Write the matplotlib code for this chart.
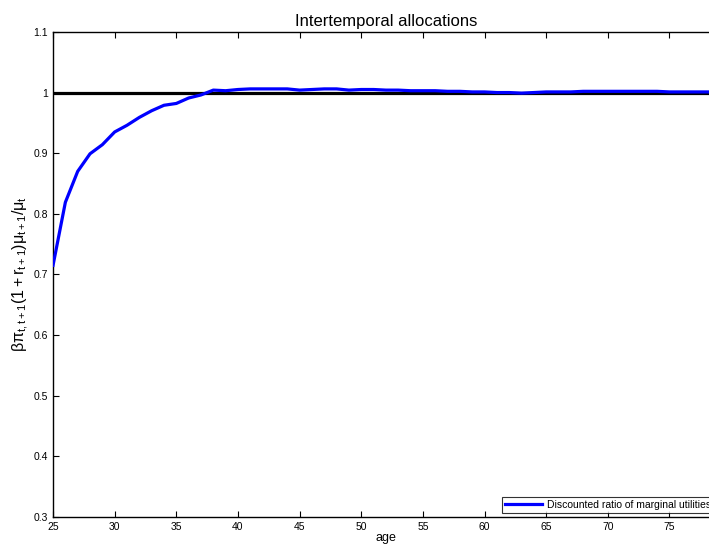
import numpy as np
import matplotlib.pyplot as plt

plt.rcParams['font.family'] = ['Liberation Sans', 'DejaVu Sans']
plt.rcParams['mathtext.fontset'] = 'custom'
plt.rcParams['mathtext.rm'] = 'Liberation Sans'
plt.rcParams['mathtext.it'] = 'Liberation Sans'

# valores
age = np.arange(25, 80)
ratio = [0.715, 0.819, 0.870, 0.899, 0.914, 0.935, 0.946, 0.959, 0.970, 0.979,
         0.982, 0.991, 0.996, 1.004, 1.003, 1.005, 1.006, 1.006, 1.006, 1.006,
         1.004, 1.005, 1.006, 1.006, 1.004, 1.005, 1.005, 1.004, 1.004, 1.003,
         1.003, 1.003, 1.002, 1.002, 1.001, 1.001, 1.000, 1.000, 0.999, 1.000,
         1.001, 1.001, 1.001, 1.002, 1.002, 1.002, 1.002, 1.002, 1.002, 1.002,
         1.001, 1.001, 1.001, 1.001, 1.001]
ref_level = 1.0

fig = plt.figure(figsize=(7.09, 5.5), dpi=100)
ax = fig.add_axes([0.0748, 0.06, 0.939, 0.882])

ax.axhline(ref_level, color='black', lw=2.3, zorder=2)
ax.plot(age, ratio, color='blue', lw=2.3, label='Discounted ratio of marginal utilities', zorder=3)

ax.set_xticks(np.arange(25, 76, 5))
ax.set_yticks(np.arange(0.3, 1.11, 0.1))
ax.set_yticklabels(['0.3', '0.4', '0.5', '0.6', '0.7', '0.8', '0.9', '1', '1.1'])
ax.set_xlim(25, 79)
ax.set_ylim(0.3, 1.1)
ax.tick_params(direction='in', top=True, right=True, labelsize=7.5, length=4, width=0.8)
for s in ax.spines.values():
    s.set_linewidth(1.0)

ax.set_title('Intertemporal allocations', fontsize=12, pad=4)
ax.set_xlabel('age', fontsize=9, labelpad=0)
ax.set_ylabel(r'$\beta\pi_{t,t+1}(1+r_{t+1})\mu_{t+1}/\mu_t$', fontsize=11.5, labelpad=2)

leg = ax.legend(loc='lower left', bbox_to_anchor=(0.674, 0.008), fontsize=7.5,
                frameon=True, fancybox=False, edgecolor='black', borderpad=0.3,
                handlelength=3.6, handletextpad=0.4, borderaxespad=0)
leg.get_frame().set_linewidth(0.8)

fig.savefig('out.png', dpi=100)
